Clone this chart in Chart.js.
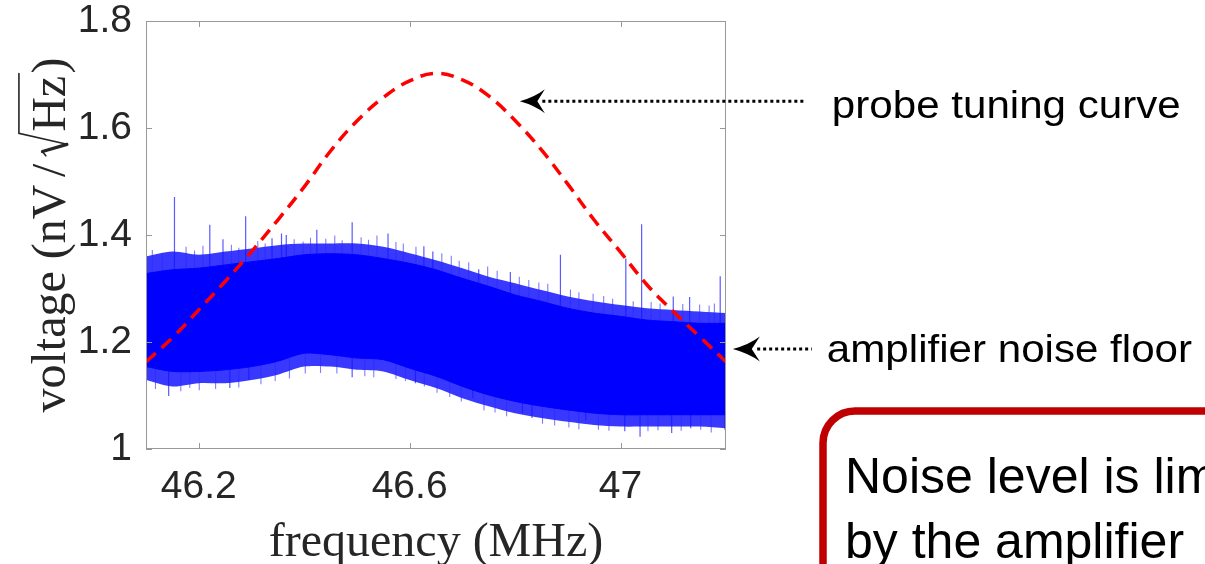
<!DOCTYPE html>
<html>
<head>
<meta charset="utf-8">
<title>Probe tuning curve and amplifier noise floor</title>
<script src="https://cdn.jsdelivr.net/npm/chart.js@4.4.0/dist/chart.umd.min.js"></script>
<style>
    html, body { margin: 0; padding: 0; background: #fff; }
    #wrap { width: 1205px; height: 564px; position: relative; overflow: hidden; }
</style>
</head>
<body>
<div id="wrap"><canvas id="noiseChart" width="1205" height="564"></canvas></div>
<script>
// probe tuning curve (MHz, nV/sqrt(Hz))
const tuneFreq = [46.10, 46.15, 46.20, 46.25, 46.30, 46.35, 46.40, 46.45, 46.50, 46.55, 46.60, 46.65,
                  46.70, 46.75, 46.80, 46.85, 46.90, 46.95, 47.00, 47.05, 47.10, 47.15, 47.20];
const tuneVolt = [1.163, 1.208, 1.260, 1.313, 1.369, 1.428, 1.490, 1.557, 1.613, 1.657, 1.688, 1.702,
                  1.690, 1.660, 1.614, 1.559, 1.495, 1.428, 1.368, 1.307, 1.257, 1.210, 1.163];

// amplifier noise floor: dense core and ragged fringe of the band
const bandFreq     = [46.10, 46.15, 46.20, 46.25, 46.30, 46.35, 46.40, 46.45, 46.50, 46.55, 46.60, 46.65,
                      46.70, 46.75, 46.80, 46.85, 46.90, 46.95, 47.00, 47.05, 47.10, 47.15, 47.20];
const fringeTop    = [1.360, 1.369, 1.363, 1.369, 1.375, 1.381, 1.384, 1.384, 1.384, 1.378, 1.366, 1.353,
                      1.338, 1.322, 1.310, 1.297, 1.285, 1.276, 1.269, 1.263, 1.260, 1.257, 1.254];
const coreTop      = [1.328, 1.335, 1.338, 1.344, 1.350, 1.356, 1.363, 1.365, 1.363, 1.356, 1.347, 1.335,
                      1.319, 1.304, 1.288, 1.276, 1.263, 1.254, 1.248, 1.241, 1.238, 1.235, 1.235];
const coreBottom   = [1.154, 1.145, 1.145, 1.148, 1.154, 1.164, 1.179, 1.176, 1.170, 1.167, 1.151, 1.136,
                      1.117, 1.101, 1.089, 1.080, 1.073, 1.067, 1.064, 1.064, 1.064, 1.064, 1.064];
const fringeBottom = [1.129, 1.117, 1.123, 1.123, 1.129, 1.139, 1.154, 1.154, 1.148, 1.145, 1.129, 1.114,
                      1.095, 1.080, 1.067, 1.058, 1.051, 1.045, 1.042, 1.042, 1.042, 1.042, 1.039];

// tall single spikes above and below the band
const spikeUpFreq   = [46.154, 46.221, 46.246, 46.289, 46.339, 46.357, 46.366, 46.424, 46.491, 46.559,
                       46.627, 46.644, 46.731, 46.791, 46.886, 47.010, 47.040, 47.100, 47.131, 47.189];
const spikeUpVolt   = [1.471, 1.419, 1.392, 1.435, 1.394, 1.403, 1.400, 1.410, 1.424, 1.403,
                       1.379, 1.369, 1.336, 1.331, 1.363, 1.356, 1.420, 1.285, 1.284, 1.323];
const spikeDownFreq = [46.143, 46.259, 46.295, 46.491, 46.611, 46.720, 46.814, 46.832, 46.934, 47.008,
                       47.037, 47.097, 47.133, 47.198];
const spikeDownVolt = [1.099, 1.114, 1.129, 1.134, 1.123, 1.095, 1.067, 1.058, 1.054, 1.033,
                       1.023, 1.030, 1.039, 1.036];

// shorter spikes that make the ragged edges
const edgeUpFreq = [46.112, 46.131, 46.176, 46.192, 46.208, 46.262, 46.276, 46.312, 46.326, 46.381, 46.398,
                    46.412, 46.441, 46.458, 46.472, 46.508, 46.522, 46.538, 46.574, 46.588, 46.612, 46.661,
                    46.679, 46.694, 46.712, 46.748, 46.766, 46.808, 46.826, 46.845, 46.862, 46.905, 46.921,
                    46.948, 46.968, 46.985, 47.024, 47.058, 47.075, 47.118, 47.150, 47.168, 47.178];
const edgeUpVolt = [1.372, 1.366, 1.378, 1.371, 1.380, 1.382, 1.376, 1.389, 1.384, 1.392, 1.388,
                    1.395, 1.393, 1.399, 1.390, 1.396, 1.391, 1.399, 1.387, 1.384, 1.378, 1.366,
                    1.361, 1.352, 1.349, 1.341, 1.333, 1.322, 1.316, 1.311, 1.309, 1.298, 1.293,
                    1.290, 1.286, 1.281, 1.276, 1.275, 1.272, 1.271, 1.270, 1.268, 1.272];
const edgeDownFreq = [46.118, 46.166, 46.183, 46.201, 46.232, 46.276, 46.318, 46.345, 46.372, 46.402, 46.431,
                      46.462, 46.515, 46.532, 46.574, 46.592, 46.628, 46.652, 46.676, 46.698, 46.741, 46.762,
                      46.784, 46.852, 46.875, 46.902, 46.921, 46.958, 46.978, 47.052, 47.071, 47.115, 47.152,
                      47.172];
const edgeDownVolt = [1.112, 1.108, 1.114, 1.110, 1.112, 1.115, 1.121, 1.127, 1.132, 1.141, 1.142,
                      1.141, 1.136, 1.134, 1.131, 1.127, 1.117, 1.105, 1.097, 1.089, 1.072, 1.068,
                      1.061, 1.047, 1.044, 1.040, 1.037, 1.036, 1.034, 1.033, 1.035, 1.034, 1.036,
                      1.031];
const spikeBase = 1.2;

const xTicks = [46.2, 46.6, 47];
const xTickLabels = ['46.2', '46.6', '47'];
const yTicks = [1, 1.2, 1.4, 1.6, 1.8];
const yTickLabels = ['1', '1.2', '1.4', '1.6', '1.8'];

// arrow tips of the two callouts (data coordinates)
const probeTip = { f: 46.809, v: 1.650 };
const noiseTip = { f: 47.213, v: 1.187 };

const pts = (xs, ys) => xs.map((x, i) => ({ x: x, y: ys[i] }));

// vertical strokes from inside the band out to each tip, broken by nulls
function spikePoints(pairs) {
    const out = [];
    pairs.forEach(([fs, vs]) => {
        fs.forEach((f, i) => { out.push({ x: f, y: spikeBase }, { x: f, y: vs[i] }, { x: f, y: null }); });
    });
    return out;
}

const axisGray = '#999999';
const textGray = '#262626';

function drawArrow(ctx, tipX, tipY, tailX, len, half) {
    ctx.save();
    ctx.strokeStyle = '#000';
    ctx.lineWidth = 3;
    ctx.setLineDash([3, 3]);
    ctx.beginPath();
    ctx.moveTo(tipX + len * 0.9, tipY);
    ctx.lineTo(tailX, tipY);
    ctx.stroke();
    ctx.setLineDash([]);
    ctx.fillStyle = '#000';
    ctx.beginPath();
    ctx.moveTo(tipX, tipY);
    ctx.quadraticCurveTo(tipX + len * 0.6, tipY - half * 0.35, tipX + len, tipY - half);
    ctx.lineTo(tipX + len * 0.7, tipY);
    ctx.lineTo(tipX + len, tipY + half);
    ctx.quadraticCurveTo(tipX + len * 0.6, tipY + half * 0.35, tipX, tipY);
    ctx.closePath();
    ctx.fill();
    ctx.restore();
}

function drawLabel(ctx, text, x, y, size) {
    ctx.save();
    ctx.font = size + 'px "Liberation Sans", Arial, sans-serif';
    ctx.fillStyle = '#000';
    ctx.textBaseline = 'alphabetic';
    ctx.translate(x, y);
    ctx.scale(1.08, 1);
    ctx.fillText(text, 0, 0);
    ctx.restore();
}

// y title with a drawn square root over Hz
function drawYTitle(ctx, cx, cy) {
    const fs = 48;
    ctx.save();
    ctx.translate(cx, cy);
    ctx.rotate(-Math.PI / 2);
    ctx.font = fs + 'px "Liberation Serif", "Times New Roman", serif';
    ctx.fillStyle = textGray;
    ctx.strokeStyle = textGray;
    ctx.textBaseline = 'alphabetic';
    const head = 'voltage (nV', slash = '/', hz = 'Hz', close = ')';
    const gap = 0.16 * fs, radW = 0.5 * fs;
    const wHead = ctx.measureText(head).width;
    const wSlash = ctx.measureText(slash).width;
    const wHz = ctx.measureText(hz).width;
    const wClose = ctx.measureText(close).width;
    const total = wHead + gap + wSlash + gap + radW + wHz + 0.05 * fs + wClose;
    let px = -total / 2;
    ctx.fillText(head, px, 0);
    px += wHead + gap;
    ctx.fillText(slash, px, 0);
    px += wSlash + gap;
    const top = -0.96 * fs;
    ctx.lineCap = 'round';
    ctx.lineWidth = 1.6;
    ctx.beginPath();
    ctx.moveTo(px, -0.40 * fs);
    ctx.lineTo(px + 0.09 * fs, -0.47 * fs);
    ctx.stroke();
    ctx.lineWidth = 3.2;
    ctx.beginPath();
    ctx.moveTo(px + 0.09 * fs, -0.47 * fs);
    ctx.lineTo(px + 0.24 * fs, 0.04 * fs);
    ctx.stroke();
    ctx.lineWidth = 1.6;
    ctx.beginPath();
    ctx.moveTo(px + 0.24 * fs, 0.04 * fs);
    ctx.lineTo(px + 0.47 * fs, top);
    ctx.lineTo(px + radW + wHz + 0.05 * fs, top);
    ctx.stroke();
    px += radW;
    ctx.fillText(hz, px, 0);
    px += wHz + 0.05 * fs;
    ctx.fillText(close, px, 0);
    ctx.restore();
}

const framePlugin = {
    id: 'frame',
    afterDraw(chart) {
        const { ctx, chartArea: a, scales: { x, y } } = chart;
        ctx.save();

        // axes box with inward ticks on all sides
        ctx.strokeStyle = axisGray;
        ctx.lineWidth = 1;
        ctx.strokeRect(a.left + 0.5, a.top + 0.5, a.right - a.left - 1, a.bottom - a.top - 1);
        ctx.beginPath();
        x.ticks.forEach(t => {
            const px = Math.round(x.getPixelForValue(t.value)) + 0.5;
            ctx.moveTo(px, a.bottom); ctx.lineTo(px, a.bottom - 6);
            ctx.moveTo(px, a.top); ctx.lineTo(px, a.top + 6);
        });
        y.ticks.forEach(t => {
            const py = Math.round(y.getPixelForValue(t.value)) + 0.5;
            ctx.moveTo(a.left, py); ctx.lineTo(a.left + 6, py);
            ctx.moveTo(a.right, py); ctx.lineTo(a.right - 6, py);
        });
        ctx.stroke();

        // axis titles
        ctx.fillStyle = textGray;
        ctx.font = '48px "Liberation Serif", "Times New Roman", serif';
        ctx.textAlign = 'center';
        ctx.textBaseline = 'alphabetic';
        ctx.fillText('frequency (MHz)', (a.left + a.right) / 2, 556);
        ctx.textAlign = 'left';
        drawYTitle(ctx, 65, (a.top + a.bottom) / 2);

        // callouts
        const pX = x.getPixelForValue(probeTip.f), pY = y.getPixelForValue(probeTip.v);
        drawArrow(ctx, pX, pY, pX + 286, 25, 12);
        drawLabel(ctx, 'probe tuning curve', pX + 312, pY + 17, 39);

        const nX = x.getPixelForValue(noiseTip.f), nY = y.getPixelForValue(noiseTip.v);
        drawArrow(ctx, nX, nY, nX + 79, 27, 12.5);
        drawLabel(ctx, 'amplifier noise floor', nX + 94, nY + 13, 39);

        // note box
        ctx.strokeStyle = '#c00000';
        ctx.lineWidth = 7.5;
        ctx.beginPath();
        ctx.roundRect(823, 411, 500, 300, 32);
        ctx.stroke();
        ctx.fillStyle = '#000';
        ctx.font = '50px "Liberation Sans", Arial, sans-serif';
        ctx.fillText('Noise level is limited', 845, 493);
        ctx.fillText('by the amplifier', 845, 558);

        ctx.restore();
    }
};

const ctx = document.getElementById('noiseChart').getContext('2d');
const noiseChart = new Chart(ctx, {
    type: 'line',
    data: {
        datasets: [
            { label: 'probe tuning curve', data: pts(tuneFreq, tuneVolt), borderColor: '#ff0000', borderWidth: 3.5,
              borderDash: [13, 8], pointRadius: 0, tension: 0.4, fill: false },
            { label: 'core top', data: pts(bandFreq, coreTop), borderColor: '#0000ff', borderWidth: 1,
              backgroundColor: '#0000ff', pointRadius: 0, tension: 0.3, fill: { target: 2 } },
            { label: 'core bottom', data: pts(bandFreq, coreBottom), borderColor: '#0000ff', borderWidth: 1,
              pointRadius: 0, tension: 0.3, fill: false },
            { label: 'spikes', data: spikePoints([[spikeUpFreq, spikeUpVolt], [spikeDownFreq, spikeDownVolt]]),
              borderColor: 'rgba(20, 20, 255, 0.7)', borderWidth: 1.2,
              pointRadius: 0, tension: 0, fill: false, spanGaps: false },
            { label: 'edge spikes', data: spikePoints([[edgeUpFreq, edgeUpVolt], [edgeDownFreq, edgeDownVolt]]),
              borderColor: 'rgba(40, 40, 255, 0.6)', borderWidth: 1.1,
              pointRadius: 0, tension: 0, fill: false, spanGaps: false },
            { label: 'fringe top', data: pts(bandFreq, fringeTop), borderColor: 'rgba(0, 0, 255, 0)', borderWidth: 0,
              backgroundColor: 'rgba(0, 0, 255, 0.78)', pointRadius: 0, tension: 0.3, fill: { target: 6 } },
            { label: 'fringe bottom', data: pts(bandFreq, fringeBottom), borderColor: 'rgba(0, 0, 255, 0)', borderWidth: 0,
              pointRadius: 0, tension: 0.3, fill: false }
        ]
    },
    options: {
        responsive: false,
        animation: false,
        events: [],
        layout: { padding: { left: 0, right: 479, top: 21, bottom: 0 } },
        plugins: { legend: { display: false }, tooltip: { enabled: false } },
        scales: {
            x: {
                type: 'linear', min: 46.1, max: 47.2,
                afterBuildTicks: s => { s.ticks = xTicks.map(v => ({ value: v })); },
                afterFit: s => { s.height = 115; s.paddingLeft = 0; s.paddingRight = 0; },
                grid: { display: false, drawTicks: false },
                border: { display: false },
                ticks: {
                    padding: 19, color: textGray,
                    font: { family: '"Liberation Sans", Arial, sans-serif', size: 39, lineHeight: 1 },
                    callback: (v, i) => xTickLabels[i]
                }
            },
            y: {
                type: 'linear', min: 1, max: 1.8,
                afterBuildTicks: s => { s.ticks = yTicks.map(v => ({ value: v })); },
                afterFit: s => { s.width = 146; s.paddingTop = 0; s.paddingBottom = 0; },
                grid: { display: false, drawTicks: false },
                border: { display: false },
                ticks: {
                    padding: 14, color: textGray,
                    font: { family: '"Liberation Sans", Arial, sans-serif', size: 39, lineHeight: 1 },
                    callback: (v, i) => yTickLabels[i]
                }
            }
        }
    },
    plugins: [framePlugin]
});
</script>
</body>
</html>
